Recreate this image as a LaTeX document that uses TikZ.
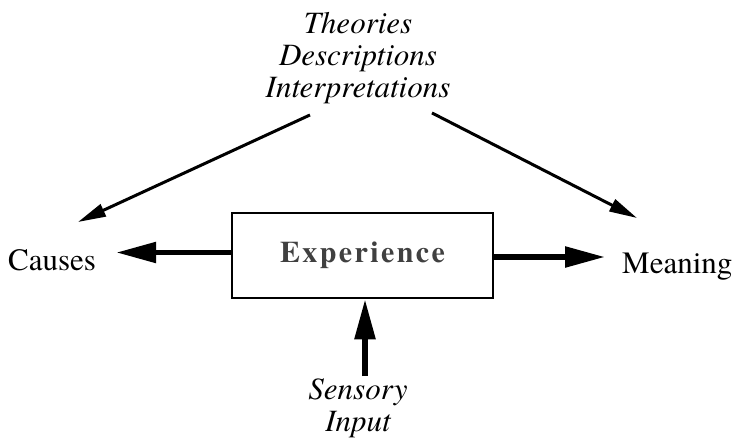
\documentclass[tikz,border=0pt]{standalone}
\usepackage{fontspec}
\setmainfont{texgyretermes}[
    Extension=.otf,
    UprightFont=*-regular,
    BoldFont=*-bold,
    ItalicFont=*-italic,
    BoldItalicFont=*-bolditalic]
\usetikzlibrary{arrows.meta}

\begin{document}
\begin{tikzpicture}[x=1pt, y=-1pt,
    every node/.style={font=\fontsize{31}{32}\selectfont, inner sep=0pt},
    label/.style={font=\fontsize{31}{32}\selectfont\itshape, align=center},
    heavy/.style={line width=5.5pt, -{Triangle[length=40pt, width=20pt]}},
    slim/.style={line width=3pt, -{Triangle[length=28pt, width=13pt]}}]
    % Page of the reference size
    \useasboundingbox (0,0) rectangle (734,439);

    % The central box
    \node[draw, line width=2.5pt, minimum width=261pt, minimum height=85pt,
          text=black!75,
          font=\fontsize{30}{32}\selectfont\bfseries\addfontfeatures{LetterSpace=8}]
        (exp) at (362.5,255.5) {Experience};

    % Texts round the box
    \node[label] (views) at (358,58) {Theories\\Descriptions\\Interpretations};
    \node[anchor=base west] (causes) at (8,270) {Causes};
    \node[anchor=base west] (meaning) at (622,273) {Meaning};
    \node[label] (input) at (358,408) {Sensory\\Input};

    % Free ends of the arrows
    \coordinate (causetip) at (78,222);
    \coordinate (meaningtip) at (637,218);
    \coordinate (inputtail) at (365,376);

    % Arrows out of the box
    \draw[heavy, shorten >=20pt] ([yshift=3pt]exp.west) -- ([yshift=3pt]exp.west -| causes.east);
    \draw[heavy, shorten >=17pt] ([yshift=-1.5pt]exp.east) -- ([yshift=-1.5pt]exp.east -| meaning.west);
    \draw[heavy] (inputtail) -- (inputtail |- exp.south);

    % Arrows from the top texts
    \draw[slim] ([shift={(-48,11)}]views.south) -- (causetip);
    \draw[slim] ([shift={(74,9)}]views.south) -- (meaningtip);
\end{tikzpicture}
\end{document}
